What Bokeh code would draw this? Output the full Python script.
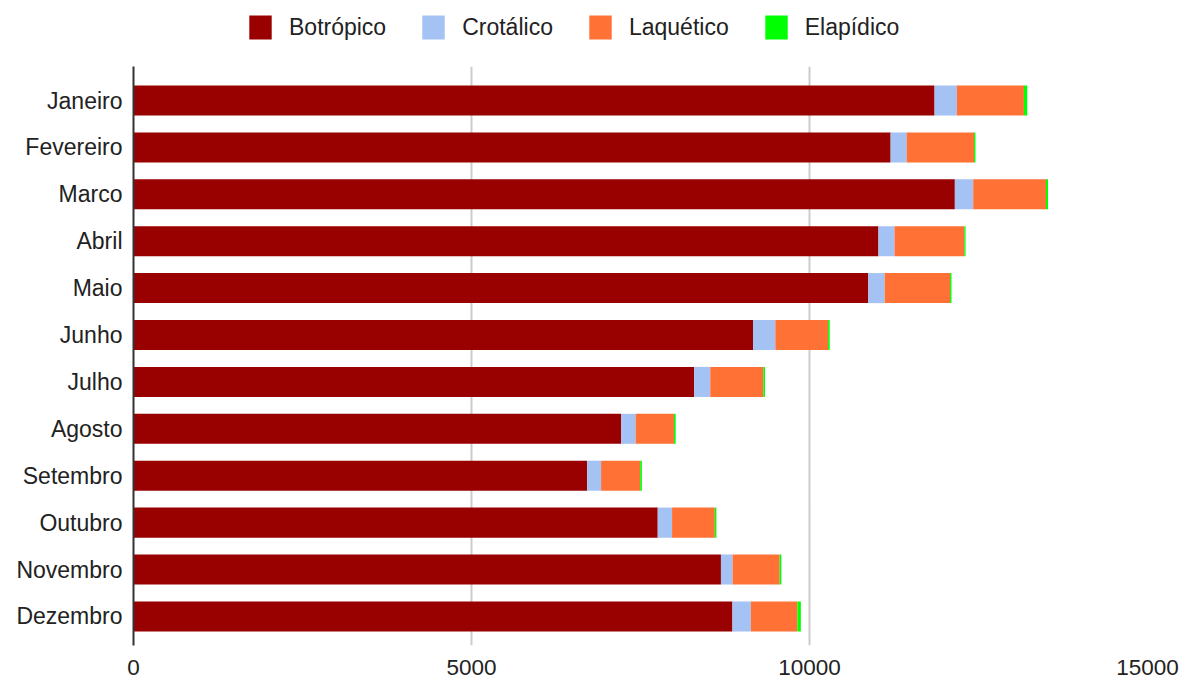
from bokeh.plotting import figure
from bokeh.layouts import column
from bokeh.models import ColumnDataSource, Range1d, FixedTicker, Legend, LegendItem
from bokeh.embed import file_html
from bokeh.resources import INLINE

months = ["Janeiro", "Fevereiro", "Marco", "Abril", "Maio", "Junho", "Julho",
          "Agosto", "Setembro", "Outubro", "Novembro", "Dezembro"]
botropico = [11850, 11200, 12150, 11020, 10870, 9165, 8295, 7215, 6710, 7755, 8690, 8860]
crotalico = [330, 237, 272, 237, 242, 330, 237, 213, 207, 212, 172, 272]
laquetico = [992, 997, 1076, 1032, 967, 780, 785, 567, 578, 632, 696, 690]
elapidico = [49, 21, 30, 20, 21, 24, 25, 25, 25, 24, 25, 50]
series = ["Botrópico", "Crotálico", "Laquético", "Elapídico"]
colors = ["#990000", "#a4c2f4", "#ff7134", "#00ff00"]
x_ticks = [0, 5000, 10000, 15000]

FONT = "Liberation Sans"
TXT = "#222222"

n = len(months)
ypos = [n - 1 - i for i in range(n)]  # first month at the top

src = ColumnDataSource(dict(
    y=ypos,
    **{series[0]: botropico, series[1]: crotalico, series[2]: laquetico, series[3]: elapidico}
))

# ---- main chart ----
p = figure(width=1195, height=616, output_backend="svg", toolbar_location=None,
           x_range=Range1d(0, 15000), y_range=Range1d(-0.62, n - 1 + 0.725),
           min_border_left=133, min_border_right=48, min_border_top=0, min_border_bottom=37)
p.outline_line_color = None

p.hbar_stack(series, y="y", height=0.64, source=src, color=colors, line_color=None)

p.xaxis.ticker = FixedTicker(ticks=x_ticks)
p.xaxis.axis_line_color = None
p.xaxis.major_tick_line_color = None
p.xaxis.minor_tick_line_color = None
p.xaxis.major_tick_out = 0
p.xaxis.major_tick_in = 0
p.xaxis.major_label_standoff = 14
p.xaxis.major_label_text_font = FONT
p.xaxis.major_label_text_font_size = "22.5px"
p.xaxis.major_label_text_color = TXT

p.yaxis.ticker = FixedTicker(ticks=ypos)
p.yaxis.major_label_overrides = {yv: m for yv, m in zip(ypos, months)}
p.yaxis.axis_line_color = "#333333"
p.yaxis.axis_line_width = 2
p.yaxis.major_tick_line_color = None
p.yaxis.minor_tick_line_color = None
p.yaxis.major_tick_out = 0
p.yaxis.major_tick_in = 0
p.yaxis.major_label_standoff = 11
p.yaxis.major_label_text_font = FONT
p.yaxis.major_label_text_font_size = "23px"
p.yaxis.major_label_text_color = TXT

p.xgrid.grid_line_color = "#cccccc"
p.xgrid.grid_line_width = 2
p.ygrid.grid_line_color = None

# ---- legend strip above the chart (its bars lie outside its visible range) ----
lg = figure(width=1195, height=66, output_backend="svg", toolbar_location=None,
            x_range=Range1d(0, 1), y_range=Range1d(1000, 1001),
            min_border_left=133, min_border_right=48, min_border_top=0, min_border_bottom=0)
lg.axis.visible = False
lg.grid.visible = False
lg.outline_line_color = None
lrs = lg.hbar_stack(series, y="y", height=0.5, source=src, color=colors, line_color=None)

legend = Legend(items=[LegendItem(label=s, renderers=[r]) for s, r in zip(series, lrs)],
                orientation="horizontal", location=(113, 24),
                glyph_width=28, glyph_height=30, label_standoff=15, spacing=33,
                padding=0, margin=0, border_line_color=None, background_fill_alpha=0,
                label_text_font=FONT, label_text_font_size="23px", label_text_color=TXT)
lg.add_layout(legend)

layout = column(lg, p, spacing=0)
open("out.html", "w").write(file_html(layout, INLINE))
